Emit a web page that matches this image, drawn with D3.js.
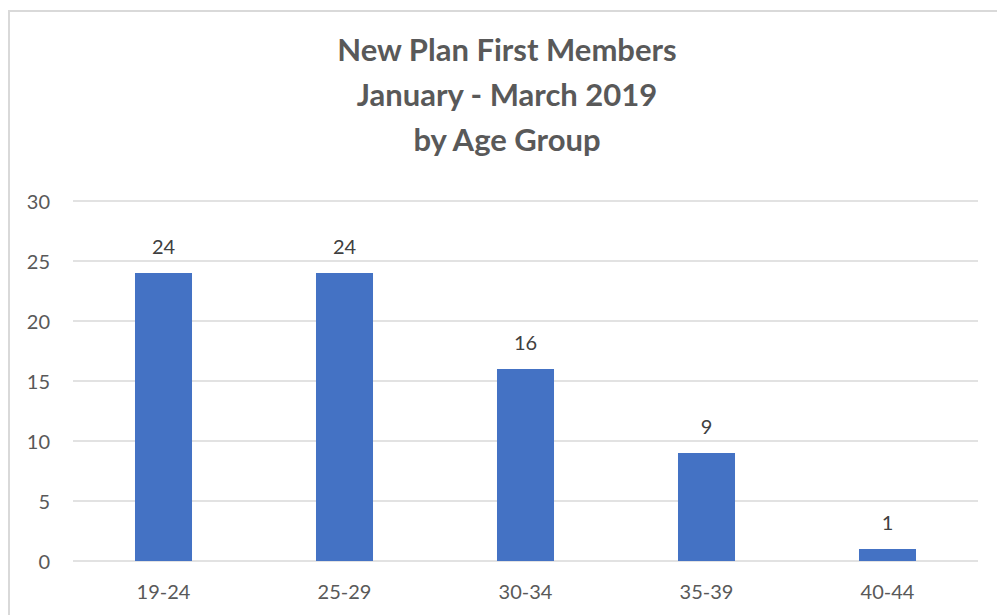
<!DOCTYPE html>
<html>
<head>
<meta charset="utf-8">
<script src="https://cdn.jsdelivr.net/npm/d3@7"></script>
<style>
  html, body { margin: 0; padding: 0; background: #fff; }
  svg { display: block; }
  text { font-family: Lato, "Open Sans", sans-serif; }
</style>
</head>
<body>
<svg id="chart" width="997" height="615"></svg>
<script>
const titleLines = ["New Plan First Members", "January - March 2019", "by Age Group"];
const categories = ["19-24", "25-29", "30-34", "35-39", "40-44"];
const values = [24, 24, 16, 9, 1];
const yTicks = [0, 5, 10, 15, 20, 25, 30];

const svg = d3.select("#chart");
const plot = { left: 73, right: 978, top: 201, bottom: 561 };

// chart area border
svg.append("rect")
  .attr("x", 9).attr("y", 11)
  .attr("width", 1000).attr("height", 620)
  .attr("fill", "#fff")
  .attr("stroke", "#d9d9d9").attr("stroke-width", 2);

const x = d3.scaleBand().domain(categories).range([plot.left, plot.right]).padding(0);
const y = d3.scaleLinear().domain([0, 30]).range([plot.bottom, plot.top]);

// gridlines
svg.append("g").selectAll("line").data(yTicks).join("line")
  .attr("x1", plot.left).attr("x2", plot.right)
  .attr("y1", d => y(d)).attr("y2", d => y(d))
  .attr("stroke", "#d9d9d9").attr("stroke-width", 1.3);

// y axis labels
const yAxis = d3.axisLeft(y).tickValues(yTicks).tickSize(0).tickPadding(0);
const gy = svg.append("g").attr("transform", `translate(50,0)`).call(yAxis);
gy.select(".domain").remove();
gy.selectAll("text")
  .attr("fill", "#595959").attr("font-size", 20).attr("dy", "0.35em")
  .style("font-family", "Lato, 'Open Sans', sans-serif");

// bars
const barW = x.bandwidth() * 0.315;
svg.append("g").selectAll("rect").data(values).join("rect")
  .attr("x", (d, i) => x(categories[i]) + x.bandwidth() / 2 - barW / 2)
  .attr("y", d => y(d))
  .attr("width", barW)
  .attr("height", d => y(0) - y(d))
  .attr("fill", "#4472C4");

// data labels
svg.append("g").selectAll("text").data(values).join("text")
  .attr("x", (d, i) => x(categories[i]) + x.bandwidth() / 2)
  .attr("y", d => y(d) - 19)
  .attr("text-anchor", "middle")
  .attr("fill", "#404040").attr("font-size", 20)
  .text(d => d);

// x axis labels
const xAxis = d3.axisBottom(x).tickSize(0).tickPadding(0);
const gx = svg.append("g").attr("transform", `translate(0,${plot.bottom})`).call(xAxis);
gx.select(".domain").remove();
gx.selectAll("text")
  .attr("fill", "#595959").attr("font-size", 20).attr("y", 38).attr("dy", 0)
  .style("font-family", "Lato, 'Open Sans', sans-serif");

// title
svg.append("g").selectAll("text").data(titleLines).join("text")
  .attr("x", 507)
  .attr("y", (d, i) => 61 + i * 45)
  .attr("text-anchor", "middle")
  .attr("fill", "#595959")
  .attr("font-size", 31)
  .attr("font-weight", "bold")
  .text(d => d);
</script>
</body>
</html>
